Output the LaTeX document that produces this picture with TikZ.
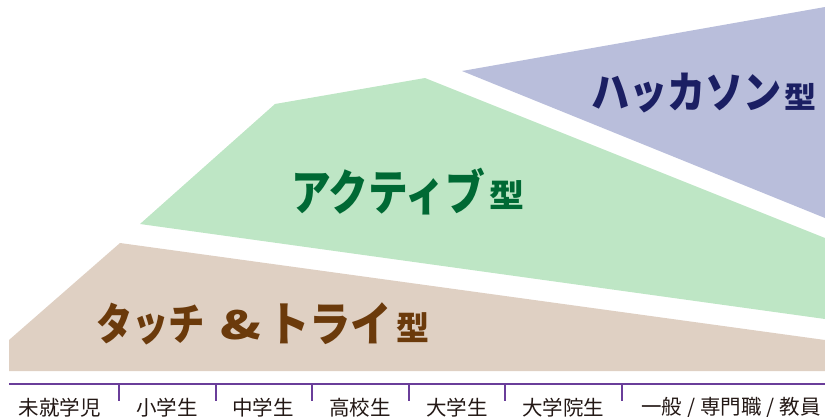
\documentclass[tikz,border=0pt]{standalone}
\usepackage{fontspec}
\usepackage{graphicx}
\newfontfamily\jp{Noto Sans CJK JP}
\definecolor{brownfill}{HTML}{DFD0C3}
\definecolor{greenfill}{HTML}{BEE6C5}
\definecolor{purplefill}{HTML}{B9BEDB}
\definecolor{navytext}{HTML}{1B1F63}
\definecolor{greentext}{HTML}{006934}
\definecolor{browntext}{HTML}{6B3A0B}
\definecolor{axiscol}{HTML}{6A3D9A}
\definecolor{labelcol}{HTML}{231815}
\newcommand{\slsep}{\hspace{5pt}/\hspace{5pt}}
\tikzset{
  bigtext/.style={anchor=north west, inner sep=0pt, outer sep=0pt},
  axisline/.style={draw=axiscol, line width=1.6pt},
  ticklabel/.style={font=\jp\fontsize{20.5pt}{20.5pt}\selectfont, text=labelcol, inner sep=0pt, anchor=center}
}
\begin{document}
\begin{tikzpicture}[x=1pt,y=-1pt]
\useasboundingbox (0,0) rectangle (825,416);
% bands
\fill[brownfill] (9,340) -- (120,243) -- (825,340) -- (825,371) -- (9,371) -- cycle;
\fill[greenfill] (140,224) -- (275,104) -- (425,78) -- (825,238) -- (825,319) -- cycle;
\fill[purplefill] (462,71) -- (825,7) -- (825,218) -- cycle;
% titles
\node[bigtext, text=navytext] (hackA) at (591,73) {\resizebox*{191pt}{40pt}{\jp\bfseries ハッカソン}};
\node[bigtext, text=navytext] (hackB) at (784,83) {\resizebox*{32pt}{27pt}{\jp\bfseries 型}};
\node[bigtext, text=greentext] (actA) at (291,168) {\resizebox*{194pt}{47pt}{\jp\bfseries アクティブ}};
\node[bigtext, text=greentext] (actB) at (489,181) {\resizebox*{35pt}{29pt}{\jp\bfseries 型}};
\node[bigtext, text=browntext] (touchA) at (96,303) {\resizebox*{109pt}{42pt}{\jp\bfseries タッチ}};
\node[bigtext, text=browntext] (touchAmp) at (220,310) {\resizebox*{41pt}{30pt}{\jp\bfseries \&}};
\node[bigtext, text=browntext] (touchB) at (268,303) {\resizebox*{124pt}{42pt}{\jp\bfseries トライ}};
\node[bigtext, text=browntext] (touchC) at (396,313) {\resizebox*{33pt}{30pt}{\jp\bfseries 型}};
% axis
\coordinate (axL) at (9,384);
\coordinate (axR) at (825,384);
\draw[axisline] (axL) -- (axR);
\foreach \x [count=\i] in {119,216,312,409,505,622} {
  \coordinate (ta\i) at (\x,384);
  \coordinate (tb\i) at (\x,401);
  \draw[axisline] (ta\i) -- (tb\i);
}
% labels
\node[ticklabel] (l1) at (60,408) {未就学児};
\node[ticklabel] (l2) at (167,408) {小学生};
\node[ticklabel] (l3) at (263,408) {中学生};
\node[ticklabel] (l4) at (360,408) {高校生};
\node[ticklabel] (l5) at (457,408) {大学生};
\node[ticklabel] (l6) at (563,408) {大学院生};
\node[ticklabel] (l7) at (731,408) {一般\slsep 専門職\slsep 教員};
\end{tikzpicture}
\end{document}
